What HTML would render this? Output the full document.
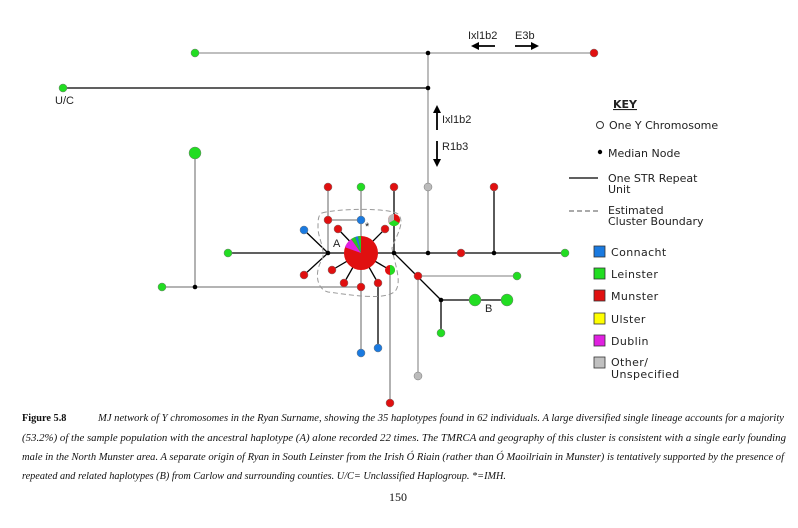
<!DOCTYPE html>
<html><head><style>
body{margin:0;background:#fff;width:798px;height:528px;overflow:hidden}
svg{display:block}
.k{font-family:"DejaVu Sans","Liberation Sans",sans-serif;font-size:11px;fill:#222}
.a{font-family:"Liberation Sans",sans-serif;font-size:11px;fill:#222}
.c{font-family:"Liberation Serif",serif;font-size:10.3px;font-style:italic;fill:#111}
.f{font-family:"Liberation Serif",serif;font-size:10.3px;font-weight:bold;fill:#111}
</style></head><body>
<svg width="798" height="528" viewBox="0 0 798 528" xmlns="http://www.w3.org/2000/svg">
<g stroke-width="1.3" fill="none">
<line x1="195" y1="53" x2="594" y2="53" stroke="#999"/>
<line x1="63" y1="88" x2="428" y2="88" stroke="#000"/>
<line x1="428" y1="53" x2="428" y2="187" stroke="#999"/>
<line x1="428" y1="187" x2="428" y2="253" stroke="#999"/>
<line x1="228" y1="253" x2="565" y2="253" stroke="#000"/>
<line x1="162" y1="287" x2="361" y2="287" stroke="#888"/>
<line x1="195" y1="153" x2="195" y2="287" stroke="#888"/>
<line x1="328" y1="187" x2="328" y2="253" stroke="#888"/>
<line x1="328" y1="220" x2="361" y2="220" stroke="#888"/>
<line x1="361" y1="187" x2="361" y2="253" stroke="#888"/>
<line x1="394" y1="187" x2="394" y2="253" stroke="#000"/>
<line x1="494" y1="187" x2="494" y2="253" stroke="#000"/>
<line x1="304" y1="230" x2="328" y2="253" stroke="#000"/>
<line x1="304" y1="275" x2="328" y2="253" stroke="#000"/>
<line x1="338" y1="229" x2="361" y2="253" stroke="#000"/>
<line x1="385" y1="229" x2="361" y2="253" stroke="#000"/>
<line x1="332" y1="270" x2="361" y2="253" stroke="#000"/>
<line x1="344" y1="283" x2="361" y2="253" stroke="#000"/>
<line x1="378" y1="283" x2="361" y2="253" stroke="#000"/>
<line x1="390" y1="270" x2="361" y2="253" stroke="#000"/>
<line x1="361" y1="253" x2="361" y2="353" stroke="#888"/>
<line x1="378" y1="283" x2="378" y2="348" stroke="#000"/>
<line x1="390" y1="270" x2="390" y2="403" stroke="#888"/>
<line x1="394" y1="253" x2="441" y2="300" stroke="#000"/>
<line x1="418" y1="276" x2="517" y2="276" stroke="#999"/>
<line x1="418" y1="276" x2="418" y2="376" stroke="#999"/>
<line x1="441" y1="300" x2="507" y2="300" stroke="#000"/>
<line x1="441" y1="300" x2="441" y2="333" stroke="#000"/>
<path d="M322,213 C340,208 390,208 398,214 C406,222 396,236 392,248 C394,262 402,280 396,290 C388,302 345,294 328,292 C314,288 316,268 322,260 C326,250 318,238 318,228 C318,220 318,215 322,213 Z" stroke="#999" stroke-dasharray="5,3" stroke-width="1"/>
</g>
<g stroke="#000" stroke-width="1.8">
<line x1="437" y1="130" x2="437" y2="112"/><line x1="437" y1="141" x2="437" y2="160"/>
<line x1="495" y1="46" x2="478" y2="46"/><line x1="515" y1="46" x2="532" y2="46"/>
</g>
<g fill="#000">
<polygon points="433,113 441,113 437,105"/><polygon points="433,159 441,159 437,167"/>
<polygon points="479,42 479,50 471,46"/><polygon points="531,42 531,50 539,46"/>
</g>
<text class="a" x="442" y="123">Ixl1b2</text>
<text class="a" x="442" y="150">R1b3</text>
<text class="a" x="468" y="39">Ixl1b2</text>
<text class="a" x="515" y="39">E3b</text>
<text class="a" x="55" y="104">U/C</text>
<text class="a" x="333" y="247">A</text>
<text class="a" x="485" y="312">B</text>
<text class="a" x="365" y="230" font-size="10">*</text>
<g fill="#000">
<circle cx="428" cy="53" r="2.3"/><circle cx="428" cy="88" r="2.3"/>
<circle cx="328" cy="253" r="2.3"/><circle cx="394" cy="253" r="2.3"/>
<circle cx="428" cy="253" r="2.3"/><circle cx="494" cy="253" r="2.3"/>
<circle cx="195" cy="287" r="2.3"/><circle cx="441" cy="300" r="2.3"/>
</g>
<g stroke="#777" stroke-width="0.5">
<g fill="#22dd22">
<circle cx="195" cy="53" r="4"/><circle cx="63" cy="88" r="4"/><circle cx="195" cy="153" r="6"/>
<circle cx="228" cy="253" r="4"/><circle cx="162" cy="287" r="4"/><circle cx="361" cy="187" r="4"/>
<circle cx="565" cy="253" r="4"/><circle cx="517" cy="276" r="4"/><circle cx="441" cy="333" r="4"/>
<circle cx="475" cy="300" r="6"/><circle cx="507" cy="300" r="6"/>
</g>
<g fill="#e01010">
<circle cx="594" cy="53" r="4"/><circle cx="328" cy="187" r="4"/><circle cx="328" cy="220" r="4"/>
<circle cx="394" cy="187" r="4"/><circle cx="494" cy="187" r="4"/><circle cx="461" cy="253" r="4"/>
<circle cx="338" cy="229" r="4"/><circle cx="385" cy="229" r="4"/><circle cx="304" cy="275" r="4"/>
<circle cx="332" cy="270" r="4"/><circle cx="344" cy="283" r="4"/><circle cx="378" cy="283" r="4"/>
<circle cx="361" cy="287" r="4"/><circle cx="418" cy="276" r="4"/><circle cx="390" cy="403" r="4"/>
</g>
<g fill="#1a7ae0">
<circle cx="361" cy="220" r="4"/><circle cx="304" cy="230" r="4"/><circle cx="361" cy="353" r="4"/><circle cx="378" cy="348" r="4"/>
</g>
<g fill="#bbb"><circle cx="428" cy="187" r="4"/><circle cx="418" cy="376" r="4"/></g>
</g>
<circle cx="394" cy="220" r="6" fill="#e01010"/>
<path d="M394,220 L388.8,223 A6,6 0 0 0 399.2,223 Z" fill="#22dd22"/>
<path d="M394,220 L394,214 A6,6 0 0 0 388.8,223 Z" fill="#bbb"/>
<circle cx="390" cy="270" r="5" fill="#e01010"/>
<path d="M390,265 A5,5 0 0 1 390,275 Z" fill="#22dd22"/>
<circle cx="361" cy="253" r="17" fill="#e01010"/>
<path d="M361,253 L345,247.2 A17,17 0 0 1 351.2,239.1 Z" fill="#e020e0"/>
<path d="M361,253 L351.2,239.1 A17,17 0 0 1 355.2,237 Z" fill="#22cc22"/>
<path d="M361,253 L355.2,237 A17,17 0 0 1 358,236.3 Z" fill="#1a7ae0"/>
<path d="M361,253 L358,236.3 A17,17 0 0 1 361,236 Z" fill="#22cc22"/>
<text class="k" x="613" y="108" font-weight="bold" text-decoration="underline">KEY</text>
<circle cx="600" cy="125" r="3.5" fill="none" stroke="#333"/>
<text class="k" x="609" y="129">One Y Chromosome</text>
<circle cx="600" cy="152" r="2.2" fill="#000"/>
<text class="k" x="608" y="157">Median Node</text>
<line x1="569" y1="178" x2="598" y2="178" stroke="#000" stroke-width="1.2"/>
<text class="k" x="608" y="182">One STR Repeat</text>
<text class="k" x="608" y="193">Unit</text>
<line x1="569" y1="211" x2="598" y2="211" stroke="#555" stroke-dasharray="5,3"/>
<text class="k" x="608" y="214">Estimated</text>
<text class="k" x="608" y="225">Cluster Boundary</text>
<g stroke="#333" stroke-width="0.8">
<rect x="594" y="246" width="11" height="11" fill="#1a7ae0"/>
<rect x="594" y="268" width="11" height="11" fill="#22dd22"/>
<rect x="594" y="290" width="11" height="11" fill="#e01010"/>
<rect x="594" y="313" width="11" height="11" fill="#ffff00"/>
<rect x="594" y="335" width="11" height="11" fill="#e020e0"/>
<rect x="594" y="357" width="11" height="11" fill="#c0c0c0"/>
</g>
<g letter-spacing="0.4">
<text class="k" x="611" y="256">Connacht</text>
<text class="k" x="611" y="278">Leinster</text>
<text class="k" x="611" y="300">Munster</text>
<text class="k" x="611" y="323">Ulster</text>
<text class="k" x="611" y="345">Dublin</text>
<text class="k" x="611" y="366">Other/</text>
<text class="k" x="611" y="378">Unspecified</text>
</g>
<text class="f" x="22" y="421">Figure 5.8</text>
<text class="c" x="98" y="421" textLength="686" lengthAdjust="spacingAndGlyphs">MJ network of Y chromosomes in the Ryan Surname, showing the 35 haplotypes found in 62 individuals. A large diversified single lineage accounts for a majority</text>
<text class="c" x="22" y="441" textLength="764" lengthAdjust="spacingAndGlyphs">(53.2%) of the sample population with the ancestral haplotype (A) alone recorded 22 times. The TMRCA and geography of this cluster is consistent with a single early founding</text>
<text class="c" x="22" y="460" textLength="762" lengthAdjust="spacingAndGlyphs">male in the North Munster area. A separate origin of Ryan in South Leinster from the Irish Ó Riain (rather than Ó Maoilriain in Munster) is tentatively supported by the presence of</text>
<text class="c" x="22" y="479" textLength="484" lengthAdjust="spacingAndGlyphs">repeated and related haplotypes (B) from Carlow and surrounding counties. U/C= Unclassified Haplogroup. *=IMH.</text>
<text x="398" y="501" font-family="Liberation Serif,serif" font-size="12" text-anchor="middle" fill="#111">150</text>
</svg>
</body></html>
